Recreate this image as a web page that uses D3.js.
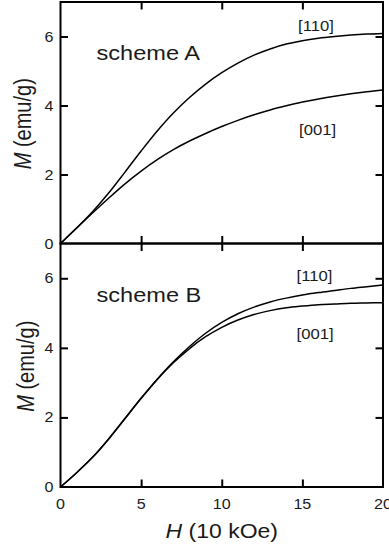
<!DOCTYPE html>
<html>
<head>
<meta charset="utf-8">
<script src="https://cdn.jsdelivr.net/npm/d3@7"></script>
<style>
  html, body { margin: 0; padding: 0; background: #fff; overflow: hidden; }
  svg { display: block; }
  text { font-family: "Liberation Sans", Arial, Helvetica, sans-serif; fill: #1a1a1a; }
</style>
</head>
<body>
<svg id="chart" width="389" height="548"></svg>
<script>
// Field values H (in units of 10 kOe)
const fieldH = [0, 1, 2, 3, 4, 5, 6, 7, 8, 9, 10, 11, 12, 13, 14, 15, 16, 17, 18, 19, 20];

// Magnetization M (emu/g), scheme A
const schemeA_110 = [0, 0.45, 0.93, 1.47, 2.07, 2.68, 3.26, 3.78, 4.23, 4.62, 4.95, 5.23, 5.46, 5.64, 5.78, 5.88, 5.95, 6.00, 6.04, 6.07, 6.09];
const schemeA_001 = [0, 0.45, 0.89, 1.32, 1.73, 2.10, 2.43, 2.72, 2.97, 3.19, 3.39, 3.57, 3.73, 3.87, 3.99, 4.10, 4.19, 4.27, 4.34, 4.40, 4.45];

// Magnetization M (emu/g), scheme B
const schemeB_110 = [0, 0.41, 0.86, 1.39, 1.97, 2.55, 3.10, 3.60, 4.04, 4.42, 4.73, 4.98, 5.17, 5.32, 5.43, 5.52, 5.59, 5.65, 5.71, 5.76, 5.81];
const schemeB_001 = [0, 0.41, 0.86, 1.39, 1.97, 2.55, 3.09, 3.57, 3.98, 4.32, 4.59, 4.80, 4.96, 5.07, 5.15, 5.20, 5.24, 5.26, 5.28, 5.29, 5.30];

// Axis tick values
const xTicks = [0, 5, 10, 15, 20];
const yTicks = [0, 2, 4, 6];

const panels = [
  { title: "scheme A", s110: schemeA_110, s001: schemeA_001, top: 2, bottom: 243.5,
    lab110: [298, 31], lab001: [299, 134.5], titlePos: [96.5, 60], yLabelX: 30.5, showX: false },
  { title: "scheme B", s110: schemeB_110, s001: schemeB_001, top: 243.5, bottom: 487,
    lab110: [296.5, 281], lab001: [296.5, 339], titlePos: [96.5, 302], yLabelX: 33.5, showX: true }
];

const svg = d3.select("#chart");
const left = 60.5, right = 383;
const xs = 1.15; // horizontal text stretch

const x = d3.scaleLinear().domain([0, 20]).range([left, right]);

function stretchedText(g, str, px, py, anchor, size) {
  return g.append("text")
    .attr("transform", `translate(${px},${py}) scale(${xs},1)`)
    .attr("text-anchor", anchor)
    .style("font-size", size + "px")
    .text(str);
}

panels.forEach(p => {
  const y = d3.scaleLinear().domain([0, 7]).range([p.bottom, p.top]);
  const g = svg.append("g");

  // inward ticks on all four sides
  const tickLen = 7.5;
  const axisStyle = sel => {
    sel.select(".domain").remove();
    sel.selectAll(".tick line").attr("stroke", "#000").attr("stroke-width", 2);
    sel.selectAll(".tick text").remove();
  };
  const inner = xTicks.filter(v => v > 0 && v < 20);
  const innerY = yTicks.filter(v => v > 0);

  g.append("g").attr("transform", `translate(0,${p.bottom})`)
    .call(d3.axisBottom(x).tickValues(inner).tickSize(-tickLen)).call(axisStyle);
  g.append("g").attr("transform", `translate(0,${p.top})`)
    .call(d3.axisTop(x).tickValues(inner).tickSize(-tickLen)).call(axisStyle);
  g.append("g").attr("transform", `translate(${left},0)`)
    .call(d3.axisLeft(y).tickValues(innerY).tickSize(-tickLen)).call(axisStyle);
  g.append("g").attr("transform", `translate(${right},0)`)
    .call(d3.axisRight(y).tickValues(innerY).tickSize(-tickLen)).call(axisStyle);

  // y tick labels
  yTicks.forEach(v => stretchedText(g, String(v), 53.5, y(v) + 5, "end", 14));

  // curves
  const line = d3.line()
    .x((d, i) => x(fieldH[i]))
    .y(d => y(d))
    .curve(d3.curveCatmullRom.alpha(0.5));

  [p.s110, p.s001].forEach(arr => {
    g.append("path").attr("d", line(arr))
      .attr("fill", "none").attr("stroke", "#000").attr("stroke-width", 1.5);
  });

  // frame
  g.append("rect")
    .attr("x", left).attr("y", p.top)
    .attr("width", right - left).attr("height", p.bottom - p.top)
    .attr("fill", "none").attr("stroke", "#000").attr("stroke-width", 2);

  // labels
  stretchedText(g, p.title, p.titlePos[0], p.titlePos[1], "start", 20.5);
  stretchedText(g, "[110]", p.lab110[0], p.lab110[1], "start", 14.5);
  stretchedText(g, "[001]", p.lab001[0], p.lab001[1], "start", 14.5);

  // y axis title
  const yt = g.append("text")
    .attr("transform", `translate(${p.yLabelX},${(p.top + p.bottom) / 2 + 1}) scale(${xs},1) rotate(-90)`)
    .attr("text-anchor", "middle")
    .style("font-size", "20px");
  yt.append("tspan").style("font-style", "italic").text("M");
  yt.append("tspan").text(" (emu/g)");

  if (p.showX) {
    xTicks.forEach(v => stretchedText(g, String(v), x(v), 508.5, "middle", 14));
    const xt = g.append("text")
      .attr("transform", `translate(${x(10)},538) scale(${xs},1)`)
      .attr("text-anchor", "middle")
      .style("font-size", "20px");
    xt.append("tspan").style("font-style", "italic").text("H");
    xt.append("tspan").text(" (10 kOe)");
  }
});
</script>
</body>
</html>
